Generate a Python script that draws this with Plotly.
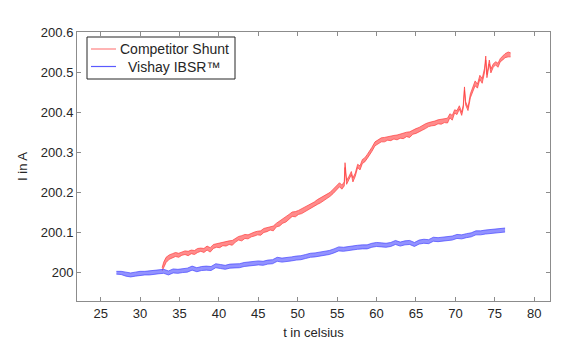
import plotly.graph_objects as go

# ---- data ----
t_red = [32.8, 33.0, 33.3, 33.7, 34.1, 34.5, 34.9, 35.3, 35.7, 36.1, 36.5, 36.9, 37.3, 37.7,
         38.1, 38.5, 38.9, 39.3, 39.7, 40.1, 40.5, 40.9, 41.3, 41.7, 42.1, 42.5, 42.9, 43.3,
         43.7, 44.1, 44.5, 44.9, 45.3, 45.7, 46.1, 46.5, 46.9, 47.3, 47.7, 48.1, 48.5, 48.9,
         49.3, 49.7, 50.1, 50.5, 50.9, 51.3, 51.7, 52.1, 52.5, 52.9, 53.3, 53.7, 54.1, 54.5,
         54.9, 55.3, 55.6, 55.9, 56.0, 56.2, 56.5, 56.8, 57.0, 57.3, 57.6, 57.9, 58.2, 58.5,
         58.8, 59.1, 59.4, 59.8, 60.2, 60.6, 61.0, 61.4, 61.8, 62.2, 62.6, 63.0, 63.4, 63.8,
         64.2, 64.6, 65.0, 65.4, 65.8, 66.2, 66.6, 67.0, 67.4, 67.8, 68.2, 68.6, 69.0, 69.3,
         69.6, 69.9, 70.2, 70.5, 70.8, 71.0, 71.15, 71.3, 71.6, 71.9, 72.2, 72.5, 72.8, 73.1,
         73.4, 73.7, 73.85, 74.0, 74.3, 74.5, 74.8, 75.1, 75.4, 75.7, 76.0, 76.3, 76.7, 77.0]
i_red_lo = [200.004, 200.012, 200.025, 200.033, 200.036, 200.040, 200.038, 200.043, 200.045,
            200.042, 200.047, 200.045, 200.050, 200.053, 200.050, 200.056, 200.051, 200.060,
            200.063, 200.062, 200.067, 200.066, 200.070, 200.068, 200.076, 200.081, 200.079,
            200.085, 200.084, 200.089, 200.091, 200.094, 200.093, 200.100, 200.102, 200.106,
            200.104, 200.114, 200.116, 200.123, 200.126, 200.134, 200.140, 200.139, 200.145,
            200.147, 200.152, 200.156, 200.160, 200.165, 200.170, 200.174, 200.179, 200.184,
            200.190, 200.197, 200.205, 200.214, 200.208, 200.216, 200.262, 200.220, 200.232,
            200.244, 200.226, 200.240, 200.262, 200.256, 200.272, 200.276, 200.284, 200.292,
            200.302, 200.316, 200.322, 200.326, 200.326, 200.330, 200.329, 200.333, 200.331,
            200.335, 200.334, 200.339, 200.337, 200.345, 200.347, 200.352, 200.355, 200.359,
            200.364, 200.366, 200.367, 200.371, 200.370, 200.374, 200.373, 200.386, 200.380,
            200.398, 200.394, 200.408, 200.392, 200.410, 200.455, 200.418, 200.404, 200.436,
            200.452, 200.466, 200.460, 200.482, 200.472, 200.500, 200.530, 200.486, 200.520,
            200.498, 200.512, 200.518, 200.512, 200.526, 200.530, 200.536, 200.538, 200.538]
i_red_hi = [200.012, 200.026, 200.038, 200.044, 200.047, 200.050, 200.048, 200.052, 200.054,
            200.053, 200.056, 200.055, 200.060, 200.061, 200.060, 200.066, 200.062, 200.070,
            200.072, 200.073, 200.076, 200.077, 200.079, 200.080, 200.085, 200.090, 200.092,
            200.095, 200.094, 200.098, 200.101, 200.103, 200.104, 200.110, 200.112, 200.115,
            200.116, 200.123, 200.128, 200.133, 200.139, 200.145, 200.151, 200.152, 200.155,
            200.159, 200.163, 200.168, 200.172, 200.176, 200.182, 200.186, 200.191, 200.195,
            200.200, 200.208, 200.215, 200.224, 200.218, 200.226, 200.274, 200.230, 200.240,
            200.252, 200.236, 200.248, 200.270, 200.266, 200.282, 200.286, 200.294, 200.302,
            200.312, 200.326, 200.332, 200.336, 200.337, 200.339, 200.341, 200.342, 200.343,
            200.346, 200.347, 200.350, 200.351, 200.356, 200.359, 200.362, 200.367, 200.371,
            200.374, 200.377, 200.378, 200.381, 200.382, 200.384, 200.385, 200.396, 200.392,
            200.406, 200.404, 200.416, 200.400, 200.418, 200.463, 200.426, 200.412, 200.446,
            200.460, 200.478, 200.470, 200.492, 200.484, 200.510, 200.540, 200.494, 200.530,
            200.508, 200.520, 200.526, 200.522, 200.534, 200.540, 200.546, 200.550, 200.548]

t_blue = [27.0, 27.6, 28.2, 28.8, 29.4, 30.0, 30.6, 31.2, 31.8, 32.4, 33.0, 33.6, 34.2, 34.8,
          35.4, 36.0, 36.6, 37.2, 37.8, 38.4, 39.0, 39.6, 40.2, 40.8, 41.4, 42.0, 42.6, 43.2,
          43.8, 44.4, 45.0, 45.6, 46.2, 46.8, 47.4, 48.0, 48.6, 49.2, 49.8, 50.4, 51.0, 51.6,
          52.2, 52.8, 53.4, 54.0, 54.6, 55.2, 55.8, 56.4, 57.0, 57.6, 58.2, 58.8, 59.4, 60.0,
          60.6, 61.2, 61.8, 62.4, 63.0, 63.6, 64.2, 64.8, 65.4, 66.0, 66.6, 67.2, 67.8, 68.4,
          69.0, 69.6, 70.2, 70.8, 71.4, 72.0, 72.6, 73.2, 73.8, 74.4, 75.0, 75.6, 76.3]
i_blue_lo = [199.996, 199.995, 199.991, 199.989, 199.991, 199.993, 199.994, 199.994, 199.996,
             199.997, 199.998, 199.994, 199.999, 199.998, 200.000, 200.001, 200.006, 200.002,
             200.005, 200.006, 200.005, 200.012, 200.010, 200.008, 200.011, 200.012, 200.012,
             200.015, 200.016, 200.017, 200.019, 200.018, 200.021, 200.022, 200.028, 200.026,
             200.027, 200.029, 200.031, 200.032, 200.035, 200.038, 200.039, 200.041, 200.043,
             200.045, 200.049, 200.054, 200.053, 200.055, 200.056, 200.058, 200.059, 200.059,
             200.063, 200.065, 200.064, 200.063, 200.065, 200.070, 200.066, 200.069, 200.070,
             200.065, 200.071, 200.073, 200.072, 200.078, 200.077, 200.078, 200.079, 200.081,
             200.085, 200.084, 200.087, 200.089, 200.094, 200.094, 200.096, 200.097, 200.098,
             200.099, 200.101]
i_blue_hi = [200.003, 200.003, 200.001, 199.999, 200.001, 200.003, 200.003, 200.004, 200.006,
             200.007, 200.008, 200.004, 200.009, 200.008, 200.010, 200.011, 200.016, 200.012,
             200.015, 200.016, 200.015, 200.022, 200.020, 200.018, 200.021, 200.022, 200.022,
             200.025, 200.026, 200.027, 200.029, 200.028, 200.031, 200.032, 200.038, 200.036,
             200.037, 200.039, 200.041, 200.042, 200.045, 200.048, 200.049, 200.051, 200.053,
             200.055, 200.059, 200.064, 200.063, 200.065, 200.066, 200.068, 200.069, 200.069,
             200.073, 200.075, 200.074, 200.073, 200.075, 200.080, 200.076, 200.079, 200.080,
             200.075, 200.081, 200.083, 200.082, 200.088, 200.087, 200.088, 200.089, 200.091,
             200.095, 200.094, 200.097, 200.099, 200.104, 200.104, 200.106, 200.107, 200.108,
             200.109, 200.111]

legend_names = ["Competitor Shunt", "Vishay IBSR™"]
x_ticks = [25, 30, 35, 40, 45, 50, 55, 60, 65, 70, 75, 80]
y_ticks = [200.0, 200.1, 200.2, 200.3, 200.4, 200.5, 200.6]
y_tick_labels = ["200", "200.1", "200.2", "200.3", "200.4", "200.5", "200.6"]

FONT = "Liberation Sans, Arial, sans-serif"
TXT = "#262626"

fig = go.Figure()

series = [
    (legend_names[0], t_red, i_red_lo, i_red_hi, "rgba(255,60,60,0.7)", "rgba(255,90,90,0.7)", "rgb(255,130,130)"),
    (legend_names[1], t_blue, i_blue_lo, i_blue_hi, "rgba(70,70,255,0.7)", "rgba(100,100,255,0.7)", "rgb(90,90,255)"),
]
for name, t, lo, hi, edge, fillc, legc in series:
    fig.add_trace(go.Scatter(x=t, y=lo, mode="lines", line=dict(color=edge, width=1),
                             name=name, showlegend=False, hoverinfo="skip"))
    fig.add_trace(go.Scatter(x=t, y=hi, mode="lines", line=dict(color=edge, width=1),
                             fill="tonexty", fillcolor=fillc,
                             name=name, showlegend=False, hoverinfo="skip"))

axis_common = dict(
    showgrid=False, zeroline=False, showline=True, mirror="ticks",
    linecolor="#8c8c8c", linewidth=1, ticks="inside", ticklen=4, tickcolor="#8c8c8c",
    tickfont=dict(family=FONT, size=13, color=TXT),
)
fig.update_xaxes(range=[22, 82], tickvals=x_ticks,
                 title=dict(text="t in celsius", font=dict(family=FONT, size=13, color=TXT), standoff=8),
                 **axis_common)
fig.update_yaxes(range=[199.929, 200.6], tickvals=y_ticks, ticktext=y_tick_labels,
                 title=dict(text="I in A", font=dict(family=FONT, size=13, color=TXT), standoff=10),
                 **axis_common)

# manual legend box (paper coordinates)
L, R, B, T = 77, 550, 301, 32
def px(xp):
    return (xp - L) / (R - L)
def py(yp):
    return (B - yp) / (B - T)

shapes = [dict(type="rect", xref="paper", yref="paper",
               x0=px(87), x1=px(235), y0=py(79), y1=py(37),
               line=dict(color=TXT, width=1), fillcolor="white", layer="above")]
annotations = []
for k, (name, legc) in enumerate([(legend_names[0], "rgb(255,130,130)"), (legend_names[1], "rgb(90,90,255)")]):
    yy = py(49 + 17.5 * k)
    shapes.append(dict(type="line", xref="paper", yref="paper", x0=px(91), x1=px(116), y0=yy, y1=yy,
                       line=dict(color=legc, width=1.2), layer="above"))
    annotations.append(dict(xref="paper", yref="paper", x=px(174), y=yy, text=name, showarrow=False,
                            xanchor="center", yanchor="middle",
                            font=dict(family=FONT, size=14, color=TXT)))

fig.update_layout(
    width=563, height=351,
    margin=dict(l=L, r=563 - R, t=T, b=351 - B),
    paper_bgcolor="white", plot_bgcolor="white",
    font=dict(family=FONT, size=13, color=TXT),
    showlegend=False,
    shapes=shapes, annotations=annotations,
)

fig.write_html("out.html")
